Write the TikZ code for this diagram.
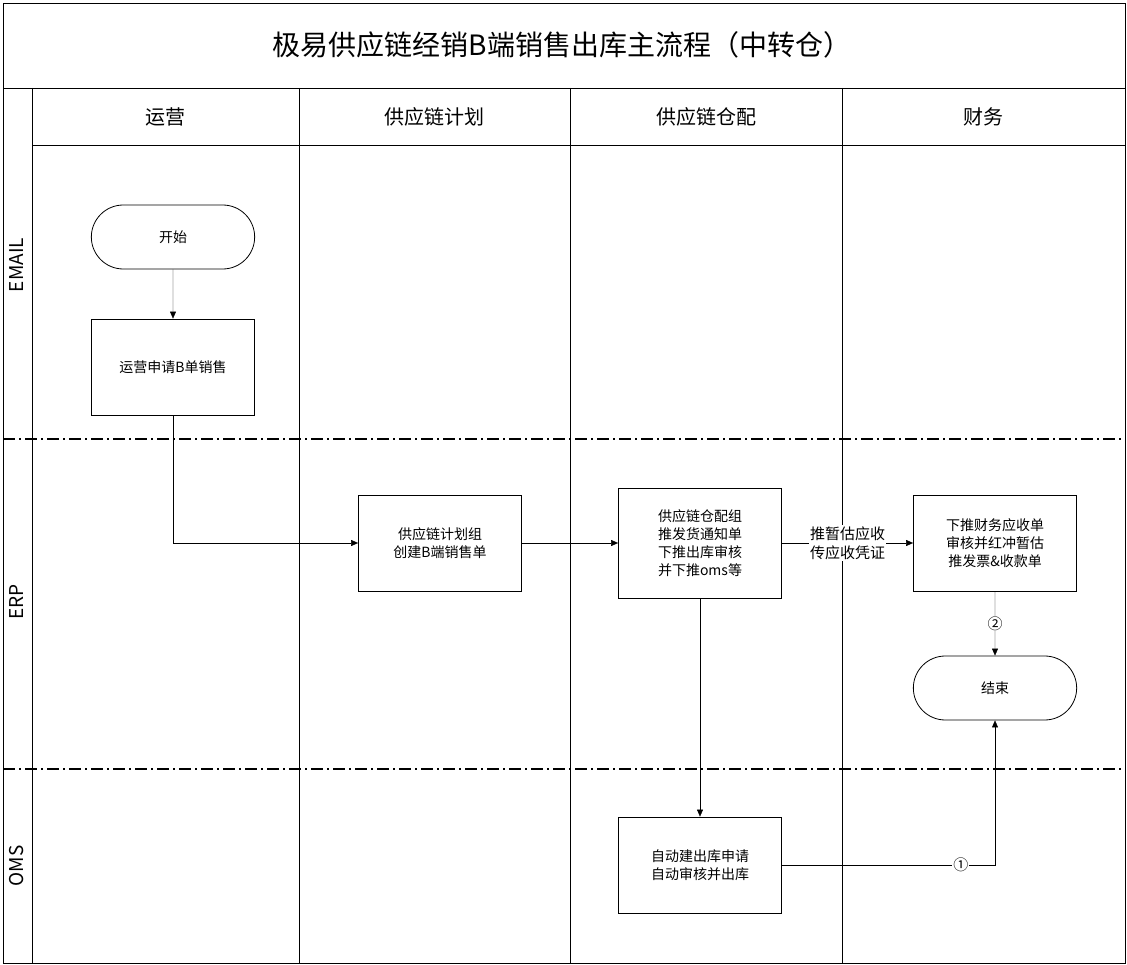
\documentclass[tikz,border=0pt]{standalone}
\usepackage{fontspec}
\setmainfont{Noto Sans CJK SC}
\usetikzlibrary{shapes.misc,arrows.meta}
\tikzset{
  box/.style={draw, thick, minimum width=163pt, minimum height=96pt, align=center, font=\fontsize{14}{18}\selectfont},
  term/.style={draw, thick, rounded rectangle, minimum width=170pt, minimum height=64pt, font=\fontsize{14}{18}\selectfont},
  flow/.style={-{Triangle[length=7pt,width=6pt]}},
  lane/.style={rotate=90, font=\fontsize{19}{21}\selectfont},
  head/.style={font=\fontsize{20}{23}\selectfont},
  sep/.style={line width=1.5pt, dash pattern=on 12pt off 4pt on 2pt off 4pt}
}
\begin{document}
\begin{tikzpicture}[x=1pt, y=-1pt]
	\useasboundingbox (0,0) rectangle (1127,965);
	% frame
	\draw[thick] (3,3) rectangle (1125,963);
	\draw[thick] (3,88) -- (1125,88);
	\draw[thick] (32,145) -- (1125,145);
	\draw[thick] (32,88) -- (32,963);
	\draw[thick] (299,88) -- (299,963);
	\draw[thick] (570,88) -- (570,963);
	\draw[thick] (842,88) -- (842,963);
	\draw[sep] (3,439) -- (1125,439);
	\draw[sep] (3,769) -- (1125,769);
	
	\node[font=\fontsize{28}{31}\selectfont] (title) at (562,45) {极易供应链经销B端销售出库主流程（中转仓）};
	\node[head] (h1) at (165,117) {运营};
	\node[head] (h2) at (434,117) {供应链计划};
	\node[head] (h3) at (706,117) {供应链仓配};
	\node[head] (h4) at (983,117) {财务};
	\node[lane] (l1) at (17,265) {EMAIL};
	\node[lane] (l2) at (17,602) {ERP};
	\node[lane] (l3) at (17,866) {OMS};
	
	\node[term] (start) at (173,237) {开始};
	\node[box] (apply) at (173,367) {运营申请B单销售};
	\node[box] (plan) at (440,543) {供应链计划组\\创建B端销售单};
	\node[box, minimum height=110pt] (wh) at (700,543) {供应链仓配组\\推发货通知单\\下推出库审核\\并下推oms等};
	\node[box] (fin) at (995,543) {下推财务应收单\\审核并红冲暂估\\推发票\&收款单};
	\node[term] (end) at (995,688) {结束};
	\node[box] (oms) at (700,865) {自动建出库申请\\自动审核并出库};
	
	\draw[flow] (start) -- (apply);
	\draw[flow] (apply) |- (plan);
	\draw[flow] (plan) -- (wh);
	\draw[flow] (wh) -- node[fill=white, align=center, inner sep=1pt, font=\fontsize{15}{19}\selectfont] {推暂估应收\\传应收凭证} (fin);
	\draw[flow] (fin) -- node[fill=white, inner sep=1pt, font=\fontsize{15}{17}\selectfont] {②} (end);
	\draw[flow] (wh) -- (oms);
	\draw[flow] (oms) -| node[pos=0.42, fill=white, inner sep=1pt, font=\fontsize{15}{17}\selectfont] {①} (end);
\end{tikzpicture}
\end{document}
